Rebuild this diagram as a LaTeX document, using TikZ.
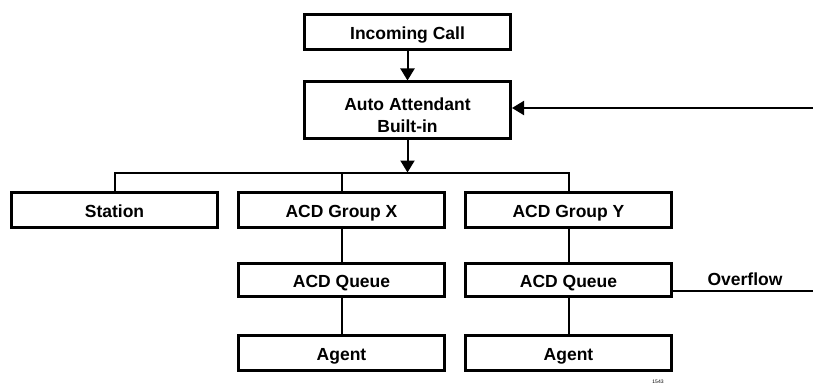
\documentclass[tikz,border=0pt]{standalone}
\usepackage{fontspec}
\setmainfont{Liberation Sans}
\usetikzlibrary{arrows.meta,positioning}

\begin{document}
\begin{tikzpicture}[
    x=1pt, y=-1pt,
    node distance=18pt,
    box/.style={draw, rectangle, line width=3pt, align=center,
                minimum width=206pt, minimum height=35pt, inner sep=0pt,
                text height=14pt, text depth=0pt,
                font=\fontsize{17.5}{22}\selectfont\bfseries},
    arrow/.style={-{Triangle[length=12pt,width=14pt]}, line width=2pt},
    link/.style={line width=2pt}
]
\useasboundingbox (0,0) rectangle (813,385);

\node[box] (call) at (407.5,32.5) {Incoming Call};
\node[box, minimum height=56pt, text height=44pt, below=29pt of call] (auto) {Auto Attendant\\Built-in};
\node[box] (gx) at (341.5,210) {ACD Group X};
\node[box, left=of gx] (station) {Station};
\node[box, right=of gx] (gy) {ACD Group Y};
\node[box, minimum height=33pt, below=33pt of gx] (qx) {ACD Queue};
\node[box, minimum height=33pt, below=33pt of gy] (qy) {ACD Queue};
\node[box, below=36pt of qx] (ax) {Agent};
\node[box, below=36pt of qy] (ay) {Agent};
\node[font=\fontsize{17.5}{22}\selectfont\bfseries] (over) at (745,279) {Overflow};
\node[font=\fontsize{5}{5}\selectfont, inner sep=0pt] (fig) at (658,382) {1543};

\coordinate (back) at (813,108);
\coordinate (out) at (813,291);

\draw[arrow] (call) -- (auto);
\draw[arrow] (auto.south) -- ++(0,33) coordinate (bus);
\draw[arrow] (back) -- (back -| auto.east);
\draw[link] (station.north) -- (station.north |- bus) -- (gy.north |- bus) -- (gy.north);
\draw[link] (gx.north) -- (gx.north |- bus);
\draw[link] (gx) -- (qx);
\draw[link] (qx) -- (ax);
\draw[link] (gy) -- (qy);
\draw[link] (qy) -- (ay);
\draw[link] (qy.east |- out) -- (out);
\end{tikzpicture}
\end{document}
